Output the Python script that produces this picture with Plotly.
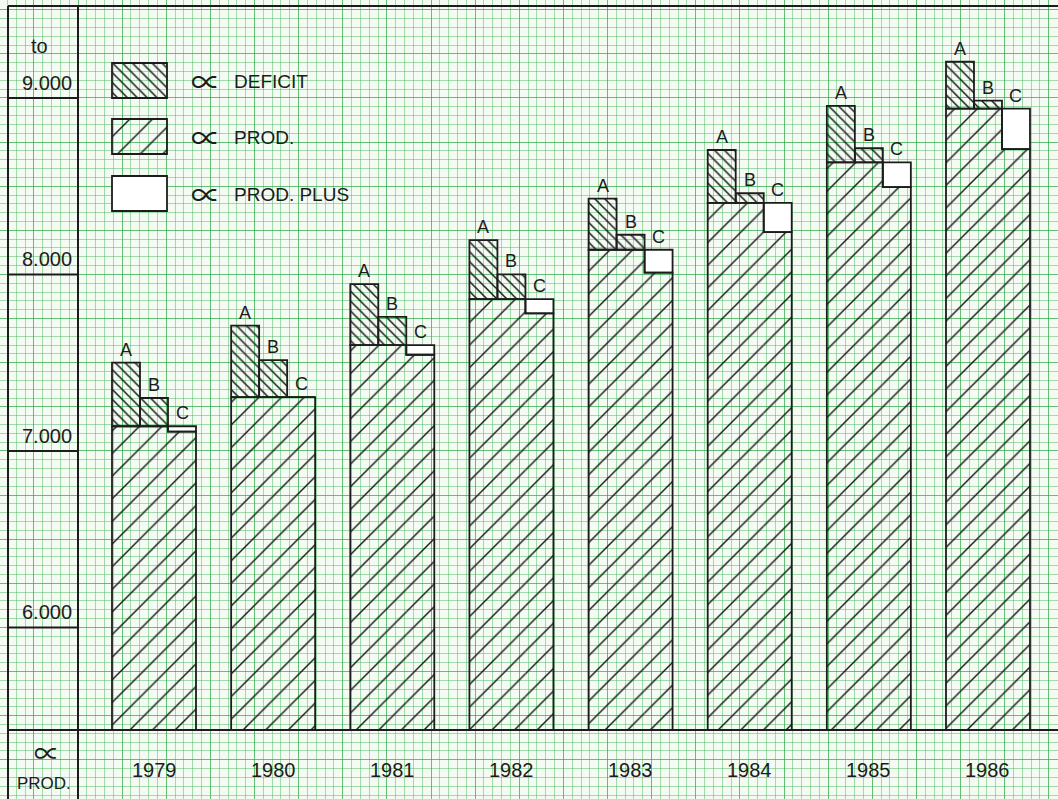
import plotly.graph_objects as go

# ---------------- data ----------------
years = ["1979", "1980", "1981", "1982", "1983", "1984", "1985", "1986"]
prod = [7140, 7305, 7600, 7860, 8140, 8405, 8635, 8940]          # α prod. level
deficit_a = [360, 405, 345, 335, 290, 300, 320, 265]              # deficit, variant A
deficit_b = [160, 210, 160, 140, 85, 55, 80, 45]                  # deficit, variant B
prod_plus_c = [30, 0, 55, 80, 130, 165, 140, 230]                 # prod. plus, variant C
y_ticks = [6000, 7000, 8000, 9000]
y_tick_labels = ["6.000", "7.000", "8.000", "9.000"]
column_letters = ["A", "B", "C"]
legend_labels = ["DEFICIT", "PROD.", "PROD. PLUS"]
unit_label = "to"
row_label = "PROD."
alpha = "∝"
BASE = 5419

# ---------------- style ----------------
INK = "#1c1c1c"
PAPER = "#f4fbf3"
GRID_MINOR = "rgba(60,180,85,0.45)"
GRID_MAJOR = "rgba(40,165,65,0.70)"
FONT = "Liberation Sans"
ALPHA_FONT = "Noto Sans CJK JP"
W = 0.235            # width of one sub column (x units)
LW = 1.8
PROD_PAT = ("/", 16, 0.09)
DEF_PAT = ("\\", 7, 0.22)

X_RANGE = [-1.2926, 7.5876]
Y_RANGE = [5028, 9555]
PX_PER_X = 1058 / (X_RANGE[1] - X_RANGE[0])
GX = 8.825 / PX_PER_X
GX0 = (78 - 154) / PX_PER_X

idx = list(range(len(years)))

def pat(spec):
    shape, size, solidity = spec
    return dict(shape=shape, size=size, solidity=solidity, fgcolor=INK,
                bgcolor="rgba(0,0,0,0)", fillmode="replace")

fig = go.Figure()

# production hatch, columns A+B
fig.add_trace(go.Bar(
    x=[i - W / 2 for i in idx], y=[p - BASE for p in prod], base=[BASE] * len(idx),
    width=[2 * W] * len(idx),
    marker=dict(color="rgba(0,0,0,0)", line=dict(width=0), pattern=pat(PROD_PAT)),
    showlegend=False, hoverinfo="skip"))
# production hatch, column C
fig.add_trace(go.Bar(
    x=[i + W for i in idx], y=[p - c - BASE for p, c in zip(prod, prod_plus_c)],
    base=[BASE] * len(idx), width=[W] * len(idx),
    marker=dict(color="rgba(0,0,0,0)", line=dict(width=0), pattern=pat(PROD_PAT)),
    showlegend=False, hoverinfo="skip"))
# deficit A
fig.add_trace(go.Bar(
    x=[i - W for i in idx], y=deficit_a, base=prod, width=[W] * len(idx),
    marker=dict(color="rgba(0,0,0,0)", line=dict(width=LW, color=INK), pattern=pat(DEF_PAT)),
    showlegend=False, hoverinfo="skip"))
# deficit B
fig.add_trace(go.Bar(
    x=list(idx), y=deficit_b, base=prod, width=[W] * len(idx),
    marker=dict(color="rgba(0,0,0,0)", line=dict(width=LW, color=INK), pattern=pat(DEF_PAT)),
    showlegend=False, hoverinfo="skip"))
# prod. plus C
fig.add_trace(go.Bar(
    x=[i + W for i in idx], y=prod_plus_c,
    base=[p - c for p, c in zip(prod, prod_plus_c)], width=[W] * len(idx),
    marker=dict(color="white", line=dict(width=LW, color=INK)),
    showlegend=False, hoverinfo="skip"))

# outline of production block
ox, oy = [], []
for i, p, c in zip(idx, prod, prod_plus_c):
    ox += [i - 1.5 * W, i - 1.5 * W, i + 0.5 * W, i + 0.5 * W, i + 1.5 * W, i + 1.5 * W, None]
    oy += [BASE, p, p, p - c, p - c, BASE, None]
fig.add_trace(go.Scatter(x=ox, y=oy, mode="lines", line=dict(color=INK, width=LW),
                         showlegend=False, hoverinfo="skip"))

annotations = []
# A / B / C letters
for i, p, a, b in zip(idx, prod, deficit_a, deficit_b):
    for k, (letter, top) in enumerate(zip(column_letters, [p + a, p + b, p])):
        annotations.append(dict(x=i + (k - 1) * W, y=top, xref="x", yref="y", text=letter,
                                showarrow=False, yanchor="bottom", yshift=1,
                                font=dict(family=FONT, size=18, color=INK)))
# year labels
for i, yr in zip(idx, years):
    annotations.append(dict(x=i, y=770, xref="x", yref="y2", text=yr, showarrow=False,
                            font=dict(family=FONT, size=20, color=INK)))
# y tick labels
for v, t in zip(y_ticks, y_tick_labels):
    annotations.append(dict(x=74, y=v, xref="x2", yref="y", text=t, showarrow=False,
                            xanchor="right", yanchor="bottom", yshift=2,
                            font=dict(family=FONT, size=20, color=INK)))
annotations.append(dict(x=39, y=46, xref="x2", yref="y2", text=unit_label, showarrow=False,
                        font=dict(family=FONT, size=20, color=INK)))
annotations.append(dict(x=47, y=751, xref="x2", yref="y2", text=alpha, showarrow=False,
                        font=dict(family=ALPHA_FONT, size=26, color=INK)))
annotations.append(dict(x=44, y=783, xref="x2", yref="y2", text=row_label, showarrow=False,
                        font=dict(family=FONT, size=17, color=INK)))

# legend (drawn manually, pixel layout)
legend_tops = [63, 119, 176]
legend_patterns = [DEF_PAT, PROD_PAT, None]
for top, lab, pt in zip(legend_tops, legend_labels, legend_patterns):
    mk = dict(line=dict(width=LW, color=INK))
    if pt is None:
        mk["color"] = "white"
    else:
        mk["color"] = "rgba(0,0,0,0)"
        mk["pattern"] = pat(pt)
    fig.add_trace(go.Bar(x=[139.5], y=[35], base=[top], width=[55], marker=mk,
                         xaxis="x2", yaxis="y2", showlegend=False, hoverinfo="skip"))
    annotations.append(dict(x=206, y=top + 17, xref="x2", yref="y2", text=alpha,
                            showarrow=False, font=dict(family=ALPHA_FONT, size=30, color=INK)))
    annotations.append(dict(x=232, y=top + 18, xref="x2", yref="y2", text=lab,
                            showarrow=False, xanchor="left",
                            font=dict(family=FONT, size=19, color=INK)))

shapes = []
line = dict(color=INK, width=2)
shapes.append(dict(type="line", xref="x2", yref="y2", x0=8, x1=1058, y0=6, y1=6, line=line))
shapes.append(dict(type="line", xref="x2", yref="y2", x0=8, x1=8, y0=6, y1=799, line=line))
shapes.append(dict(type="line", xref="x2", yref="y2", x0=78, x1=78, y0=6, y1=799, line=line))
shapes.append(dict(type="line", xref="x2", yref="y", x0=8, x1=1058, y0=BASE, y1=BASE, line=line))
for v in y_ticks:
    shapes.append(dict(type="line", xref="x2", yref="y", x0=8, x1=78, y0=v, y1=v, line=line))

fig.update_layout(
    width=1058, height=799, margin=dict(l=0, r=0, t=0, b=0),
    paper_bgcolor=PAPER, plot_bgcolor=PAPER,
    barmode="overlay", showlegend=False,
    xaxis=dict(range=X_RANGE, showticklabels=False, ticks="", zeroline=False,
               showgrid=True, gridcolor=GRID_MAJOR, gridwidth=1, tick0=GX0, dtick=5 * GX,
               minor=dict(tick0=GX0, dtick=GX, showgrid=True, gridcolor=GRID_MINOR, gridwidth=1),
               fixedrange=True),
    yaxis=dict(range=Y_RANGE, showticklabels=False, ticks="", zeroline=False,
               showgrid=True, gridcolor=GRID_MAJOR, gridwidth=1, tick0=0, dtick=250,
               minor=dict(tick0=0, dtick=50, showgrid=True, gridcolor=GRID_MINOR, gridwidth=1),
               fixedrange=True),
    xaxis2=dict(range=[0, 1058], overlaying="x", anchor="y2", visible=False, fixedrange=True),
    yaxis2=dict(range=[799, 0], overlaying="y", anchor="x2", visible=False, fixedrange=True),
    annotations=annotations, shapes=shapes,
)

fig.write_html("out.html", config={"displayModeBar": False},
               post_script="document.body.style.margin='0';document.body.style.overflow='hidden';")
